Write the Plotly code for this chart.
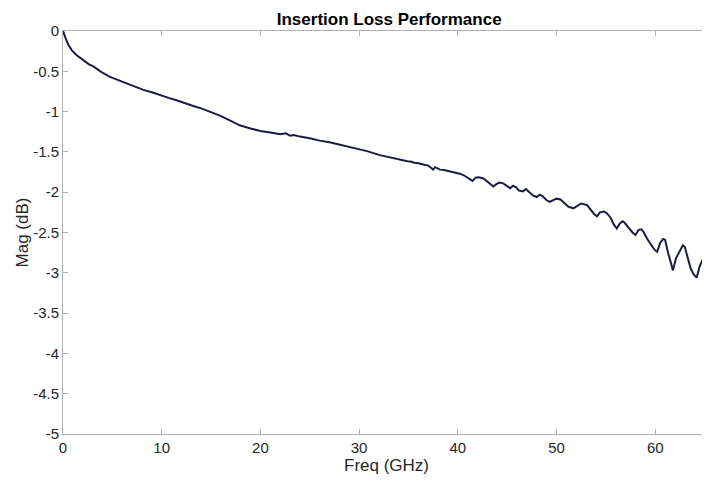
import plotly.graph_objects as go

# values
freq_ghz = [
    0.0, 0.15, 0.3, 0.54, 0.9, 1.39, 2.0, 2.6, 3.07, 3.9, 4.76, 5.6, 6.45, 7.3,
    8.14, 9.0, 9.83, 10.7, 11.5, 12.4, 13.2, 14.0, 14.9, 15.9, 16.9, 17.9,
    19.0, 20.0, 21.0, 22.0, 22.6, 23.0, 23.4, 24.0, 25.0, 26.0, 27.0, 28.1,
    29.5, 30.8, 32.1, 33.1, 34.1, 34.5, 34.9, 35.2, 35.6, 36.0, 36.2, 36.6,
    37.0, 37.3, 37.5, 37.7, 38.0, 38.2, 38.6, 39.0, 39.4, 39.8, 40.2, 40.6,
    40.9, 41.2, 41.5, 41.8, 42.1, 42.6, 43.0, 43.3, 43.6, 43.9, 44.2, 44.6,
    45.0, 45.3, 45.6, 45.9, 46.2, 46.6, 46.9, 47.2, 47.6, 48.0, 48.3, 48.6,
    49.0, 49.3, 49.6, 50.0, 50.4, 50.8, 51.2, 51.7, 52.1, 52.5, 53.1, 53.5,
    53.8, 54.1, 54.4, 54.8, 55.1, 55.5, 55.8, 56.1, 56.4, 56.7, 56.9, 57.3,
    57.7, 58.0, 58.3, 58.6, 58.8, 59.2, 59.6, 59.9, 60.2, 60.5, 60.8, 61.0,
    61.3, 61.6, 61.8, 62.1, 62.5, 62.8, 63.0, 63.3, 63.6, 63.9, 64.2, 64.5,
    64.8, 65.2, 65.6,
]
mag_db = [
    0.0, -0.06, -0.1, -0.17, -0.24, -0.30, -0.36, -0.41, -0.44, -0.51, -0.57,
    -0.61, -0.65, -0.69, -0.73, -0.76, -0.79, -0.83, -0.86, -0.90, -0.93,
    -0.96, -1.0, -1.05, -1.11, -1.17, -1.21, -1.24, -1.26, -1.28, -1.27,
    -1.30, -1.29, -1.31, -1.33, -1.36, -1.38, -1.41, -1.45, -1.49, -1.54,
    -1.57, -1.60, -1.61, -1.615, -1.62, -1.635, -1.64, -1.65, -1.66, -1.67,
    -1.70, -1.72, -1.69, -1.71, -1.72, -1.725, -1.735, -1.75, -1.755, -1.77,
    -1.79, -1.81, -1.83, -1.86, -1.82, -1.815, -1.83, -1.87, -1.91, -1.93,
    -1.90, -1.88, -1.89, -1.93, -1.95, -1.92, -1.94, -1.98, -1.99, -1.96,
    -1.99, -2.04, -2.06, -2.03, -2.05, -2.10, -2.12, -2.10, -2.08, -2.09,
    -2.14, -2.18, -2.20, -2.17, -2.14, -2.16, -2.22, -2.27, -2.30, -2.25,
    -2.24, -2.26, -2.32, -2.40, -2.45, -2.39, -2.36, -2.38, -2.44, -2.50,
    -2.53, -2.47, -2.46, -2.49, -2.58, -2.66, -2.71, -2.74, -2.63, -2.58,
    -2.59, -2.75, -2.88, -2.97, -2.82, -2.72, -2.66, -2.68, -2.82, -2.95,
    -3.02, -3.06, -2.92, -2.84, -2.78, -2.86,
]

x_ticks = [0, 10, 20, 30, 40, 50, 60]
y_ticks = [0, -0.5, -1, -1.5, -2, -2.5, -3, -3.5, -4, -4.5, -5]

fig = go.Figure(
    go.Scatter(
        x=freq_ghz,
        y=mag_db,
        mode="lines",
        line={"color": "#1b1d40", "width": 2},
        hovertemplate="%{x:.1f} GHz<br>%{y:.2f} dB<extra></extra>",
    )
)

axis_common = {
    "showgrid": False,
    "zeroline": False,
    "showline": True,
    "linecolor": "#b0b0b0",
    "linewidth": 1,
    "mirror": "ticks",
    "ticks": "inside",
    "ticklen": 5,
    "tickcolor": "#b0b0b0",
    "tickfont": {"size": 15, "color": "#262626"},
}

fig.update_xaxes(
    range=[0, 65.55],
    tickvals=x_ticks,
    title={"text": "Freq (GHz)", "font": {"size": 17, "color": "#262626"}, "standoff": 4},
    **axis_common,
)
fig.update_yaxes(
    range=[-5, 0],
    tickvals=y_ticks,
    ticktext=[f"{v:g}" for v in y_ticks],
    title={"text": "Mag (dB)", "font": {"size": 17, "color": "#262626"}, "standoff": 0},
    **axis_common,
)

# the page adds an 8px body margin, so the figure is 8px smaller than the window
fig.update_layout(
    width=702,
    height=475,
    margin={"l": 55, "r": 0, "t": 23, "b": 49},
    paper_bgcolor="white",
    plot_bgcolor="white",
    font={"family": "Liberation Sans, Arial, sans-serif"},
    showlegend=False,
    title={
        "text": "<b>Insertion Loss Performance</b>",
        "x": 0.543,
        "xanchor": "center",
        "y": 0.977,
        "yanchor": "middle",
        "font": {"size": 17, "color": "#000000"},
    },
)

fig.write_html("out.html")
